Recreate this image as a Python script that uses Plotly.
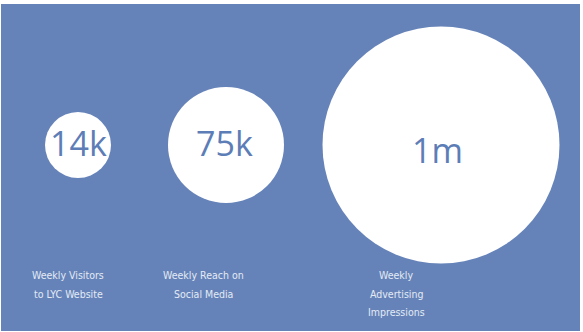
import plotly.graph_objects as go

# Data
categories = ["Weekly Visitors<br>to LYC Website",
              "Weekly Reach on<br>Social Media",
              "Weekly<br>Advertising<br>Impressions"]
values = [14000, 75000, 1000000]
value_labels = ["14k", "75k", "1m"]

# Layout / style (pixel units within plot area)
x_centres = [77, 225, 440]
y_centre = 141
diameters = [66, 116, 237]
text_dx = [0, -2, -4]
text_dy = [-2, -2, 5]
label_x = [67, 202, 395]
label_y0 = 271
line_step = 18.5

BG = "#6583B9"
TXT = "#5D7DB7"
LBL = "#E4EAF4"

fig = go.Figure()
fig.add_trace(go.Scatter(
    x=x_centres, y=[y_centre] * len(values),
    mode="markers",
    marker=dict(size=diameters, color="white", line=dict(width=0), opacity=1),
    customdata=values,
    hoverinfo="skip",
))

for xc, t, dx, dy in zip(x_centres, value_labels, text_dx, text_dy):
    fig.add_annotation(x=xc + dx, y=y_centre + dy, text=t, showarrow=False,
                       font=dict(family="Open Sans", size=34, color=TXT),
                       xanchor="center", yanchor="middle")

for lx, c in zip(label_x, categories):
    for i, line in enumerate(c.split("<br>")):
        fig.add_annotation(x=lx, y=label_y0 + i * line_step, text=line, showarrow=False,
                           font=dict(family="DejaVu Sans Condensed, DejaVu Sans", size=10.5, color=LBL),
                           xanchor="center", yanchor="middle")

fig.update_layout(
    width=583, height=332,
    margin=dict(l=1, r=3, t=4, b=1),
    paper_bgcolor="white", plot_bgcolor=BG,
    showlegend=False,
    xaxis=dict(range=[0, 579], visible=False, fixedrange=True),
    yaxis=dict(range=[327, 0], visible=False, fixedrange=True),
)

fig.write_html("out.html")
